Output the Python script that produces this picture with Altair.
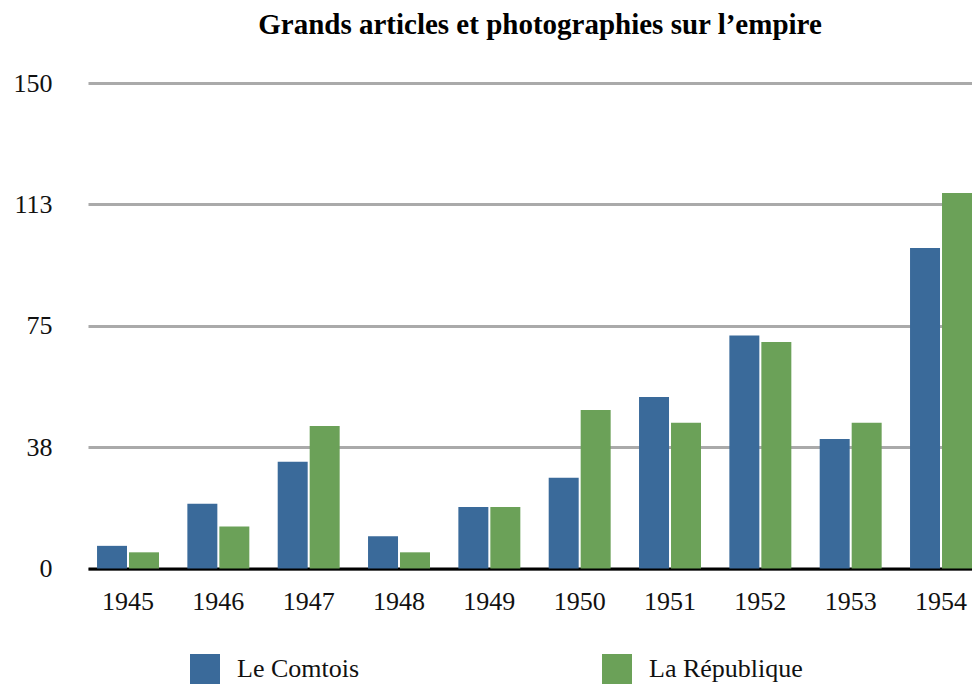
import altair as alt
import pandas as pd

years = ["1945", "1946", "1947", "1948", "1949", "1950", "1951", "1952", "1953", "1954"]
series = ["Le Comtois", "La République"]
comtois = [7, 20, 33, 10, 19, 28, 53, 72, 40, 99]
republique = [5, 13, 44, 5, 19, 49, 45, 70, 45, 116]
colors = ["#3a6a9a", "#6ba158"]
y_ticks = [0, 37.5, 75, 112.5, 150]

rows = []
for i, yr in enumerate(years):
    rows.append({"year": yr, "journal": series[0], "value": comtois[i]})
    rows.append({"year": yr, "journal": series[1], "value": republique[i]})
df = pd.DataFrame(rows)

FONT = "Liberation Serif"

chart = alt.Chart(df).mark_bar().encode(
    x=alt.X(
        "year:N", sort=years,
        scale=alt.Scale(paddingInner=0.314, paddingOuter=0.05, align=1),
        axis=alt.Axis(title=None, labelAngle=0, labelFont=FONT, labelFontSize=26,
                      labelColor="#111111", labelPadding=20, ticks=False,
                      domainColor="#000000", domainWidth=3, grid=False),
    ),
    xOffset=alt.XOffset("journal:N", sort=series,
                        scale=alt.Scale(paddingInner=0.0625, paddingOuter=0)),
    y=alt.Y(
        "value:Q",
        scale=alt.Scale(domain=[0, 150], nice=False),
        axis=alt.Axis(values=y_ticks, format=".0f", title=None, domain=False, ticks=False,
                      labelFont=FONT, labelFontSize=26, labelColor="#111111",
                      labelPadding=36, gridColor="#aaaaaa", gridWidth=3),
    ),
    color=alt.Color(
        "journal:N", sort=series,
        scale=alt.Scale(domain=series, range=colors),
        legend=alt.Legend(title=None, orient="none", legendX=102, legendY=571,
                          direction="horizontal", symbolType="square", symbolSize=900,
                          symbolStrokeWidth=0, symbolOpacity=1, labelFont=FONT,
                          labelFontSize=26, labelColor="#111111", labelOffset=17,
                          columnPadding=242),
    ),
).properties(
    width=884,
    height=485.5,
    padding={"left": 5, "top": 3, "right": 0, "bottom": 0},
    title=alt.TitleParams(
        "Grands articles et photographies sur l’empire",
        font=FONT, fontSize=29, fontWeight="bold", color="#000000",
        offset=30, dx=10,
    ),
).configure_view(strokeWidth=0)

chart.save("out.html", embed_options={"renderer": "svg", "actions": False})
